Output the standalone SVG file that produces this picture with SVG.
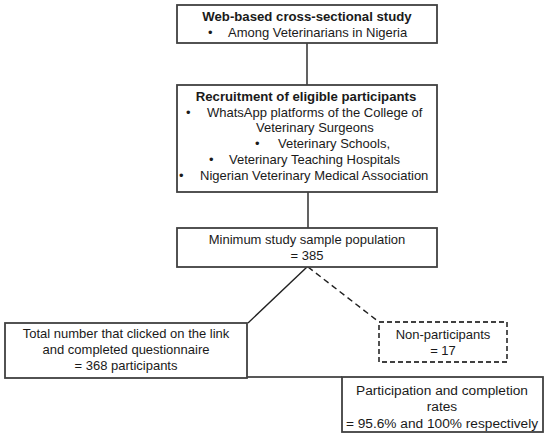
<svg xmlns="http://www.w3.org/2000/svg" width="550" height="438" viewBox="0 0 550 438">
<style>
.box{fill:#fff;stroke:#404040;stroke-width:1.8}
.dash{fill:#fff;stroke:#404040;stroke-width:1.8;stroke-dasharray:5,3}
.ln{stroke:#202020;stroke-width:1.4;fill:none}
.dl{stroke:#202020;stroke-width:1.4;fill:none;stroke-dasharray:6,4}
text{font-family:"Liberation Sans",Arial,sans-serif;font-size:13px;fill:#1a1a1a}
.c{text-anchor:middle}
.b{font-weight:bold;font-size:13.2px}
.r{font-size:13.7px}
</style>
<rect width="550" height="438" fill="#fff"/>
<g id="connectors">
<line class="ln" x1="307" y1="43" x2="307" y2="85"/>
<line class="ln" x1="308" y1="192" x2="308" y2="228"/>
<line class="ln" x1="307" y1="267" x2="248" y2="323"/>
<line class="dl" x1="308" y1="267" x2="379" y2="322"/>
<line class="ln" x1="247" y1="377" x2="342" y2="377"/>
</g>
<g id="node-study">
<rect class="box" x="177" y="5" width="260" height="38"/>
<text class="c b" x="307" y="21">Web-based cross-sectional study</text>
<text x="208" y="37">•</text>
<text x="228" y="37">Among Veterinarians in Nigeria</text>
</g>
<g id="node-recruitment">
<rect class="box" x="177" y="85" width="260" height="107"/>
<text class="c b" x="306" y="101">Recruitment of eligible participants</text>
<text x="186" y="117">•</text>
<text x="207" y="117">WhatsApp platforms of the College of</text>
<text x="256" y="132">Veterinary Surgeons</text>
<text x="255" y="148">•</text>
<text x="278" y="148">Veterinary Schools,</text>
<text x="209" y="164">•</text>
<text x="229" y="164">Veterinary Teaching Hospitals</text>
<text x="179" y="180">•</text>
<text x="200" y="180">Nigerian Veterinary Medical Association</text>
</g>
<g id="node-minimum">
<rect class="box" x="177" y="228" width="260" height="39"/>
<text class="c" x="307" y="244">Minimum study sample population</text>
<text class="c" x="307" y="260">= 385</text>
</g>
<g id="node-total">
<rect class="box" x="5" y="323" width="242" height="55"/>
<text class="c" x="126" y="338">Total number that clicked on the link</text>
<text class="c" x="126" y="354">and completed questionnaire</text>
<text class="c" x="126" y="370">= 368 participants</text>
</g>
<g id="node-non">
<rect class="dash" x="379" y="322" width="128" height="40"/>
<text class="c" x="443" y="339">Non-participants</text>
<text class="c" x="443" y="355">= 17</text>
</g>
<g id="node-rates">
<rect class="box" x="342" y="377" width="201" height="55"/>
<text class="c r" x="442" y="395">Participation and completion</text>
<text class="c r" x="442" y="411">rates</text>
<text class="c r" x="442" y="428">= 95.6% and 100% respectively</text>
</g>
</svg>
